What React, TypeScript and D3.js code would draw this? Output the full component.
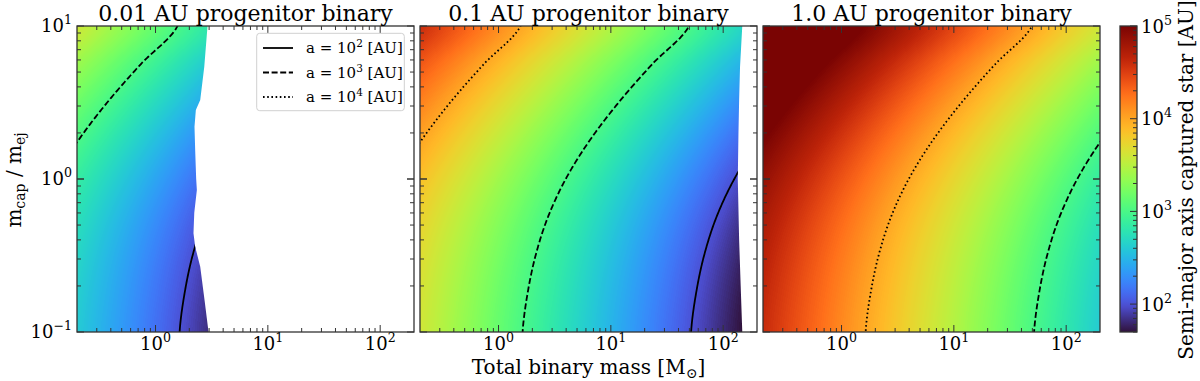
import React, { useEffect, useRef } from "react";
import * as d3 from "d3";

// ---------- data ----------
const panelTitles = ["0.01 AU progenitor binary", "0.1 AU progenitor binary", "1.0 AU progenitor binary"];
const progenitorSep = [0.01, 0.1, 1.0]; // AU

// grid nodes (log10 of mass ratio q = m_cap/m_ej and of total binary mass M)
const logQNodes = [-1, -0.75, -0.5, -0.25, 0, 0.25, 0.5, 0.75, 1];
const logMNodes = [-0.7, 0.3, 1.3, 2.3];
// log10 semi-major axis [AU] of the captured star for a 1 AU progenitor binary
// rows: logQNodes, columns: logMNodes
const logAGrid1AU = [
  [4.61, 3.943, 3.276, 2.61],
  [4.639, 3.972, 3.305, 2.639],
  [4.687, 4.02, 3.353, 2.687],
  [4.76, 4.093, 3.426, 2.76],
  [4.866, 4.199, 3.532, 2.866],
  [5.007, 4.34, 3.673, 3.007],
  [5.18, 4.513, 3.846, 3.18],
  [5.379, 4.712, 4.045, 3.379],
  [5.597, 4.93, 4.263, 3.597],
];

// edge of the region where a captured orbit exists (log q -> log M), per panel
const edgeLogQ_001 = [-1, -0.79, -0.573, -0.443, -0.355, -0.22, -0.072, 0, 0.19, 0.342, 0.451, 0.516, 0.734, 1];
const edgeLogM_001 = [0.472, 0.436, 0.398, 0.353, 0.338, 0.345, 0.368, 0.362, 0.353, 0.347, 0.359, 0.398, 0.434, 0.463];
const edgeLogQ_01 = [-1, -0.725, -0.4, 0, 0.3, 0.516, 0.734, 1];
const edgeLogM_01 = [2.17, 2.157, 2.142, 2.13, 2.136, 2.142, 2.15, 2.17];

const contourLevels = [100, 1000, 10000];
const contourExponents = ["2", "3", "4"];
const massDomain = [0.2, 200];
const ratioDomain = [0.1, 10];
const colorDomain = [50, 1e5];
const massTickValues = [1, 10, 100];
const ratioTickValues = [0.1, 1, 10];
const colorTickValues = [100, 1000, 10000, 100000];

// ---------- layout / style ----------
const FONT = "DejaVu Serif";
const panelLefts = [77, 420, 763];
const PW = 337;
const PT = 26;
const PH = 306;
const CB = { x: 1120, w: 17 };
const frameColor = "#333";
const dashStyles = [null, "6,2.6", "1.6,2.6"];

function catmull(v: number[], t: number) {
  const n = v.length;
  let i = Math.floor(t);
  if (i < 0) i = 0;
  if (i > n - 2) i = n - 2;
  const u = t - i;
  const p0 = v[Math.max(i - 1, 0)], p1 = v[i], p2 = v[i + 1], p3 = v[Math.min(i + 2, n - 1)];
  return 0.5 * (2 * p1 + (-p0 + p2) * u + (2 * p0 - 5 * p1 + 4 * p2 - p3) * u * u + (-p0 + 3 * p1 - 3 * p2 + p3) * u * u * u);
}

const qStep = logQNodes[1] - logQNodes[0];
function columnValues(logq: number) {
  const t = (logq - logQNodes[0]) / qStep;
  return logMNodes.map((_, j) => catmull(logAGrid1AU.map((r) => r[j]), t));
}
function rowValue(cols: number[], logM: number) {
  const t = (logM - logMNodes[0]) / (logMNodes[1] - logMNodes[0]);
  let i = Math.floor(t);
  if (i < 0) i = 0;
  if (i > cols.length - 2) i = cols.length - 2;
  const u = t - i;
  return cols[i] + (cols[i + 1] - cols[i]) * u;
}
function crossing(cols: number[], level: number) {
  for (let i = 0; i < cols.length - 1; i++) {
    const a = cols[i], b = cols[i + 1];
    const first = i === 0, last = i === cols.length - 2;
    if ((level <= a || first) && (level >= b || last)) {
      const u = (a - level) / (a - b);
      if ((first && u < -0.15) || (last && u > 1.15)) return null;
      return logMNodes[i] + u * (logMNodes[i + 1] - logMNodes[i]);
    }
  }
  return null;
}

const turboFixed = (t: number) => {
  if (t < 0.08) return d3.interpolateRgb("#30123b", d3.interpolateTurbo(0.08))(t / 0.08);
  if (t > 0.9) return d3.interpolateRgb(d3.interpolateTurbo(0.9), "#7a0403")((t - 0.9) / 0.1);
  return d3.interpolateTurbo(t);
};

export default function App() {
  const ref = useRef<SVGSVGElement>(null);
  useEffect(() => {
    const svg = d3.select(ref.current);
    svg.selectAll("*").remove();
    const defs = svg.append("defs");

    const lmin = Math.log10(colorDomain[0]);
    const lmax = Math.log10(colorDomain[1]);
    const lut = d3.range(256).map((i) => d3.rgb(turboFixed(i / 255)));

    const edges = [
      { q: edgeLogQ_001, m: edgeLogM_001 },
      { q: edgeLogQ_01, m: edgeLogM_01 },
      null,
    ];

    progenitorSep.forEach((a0, p) => {
      const left = panelLefts[p];
      const x = d3.scaleLog().domain(massDomain).range([left, left + PW]);
      const y = d3.scaleLog().domain(ratioDomain).range([PT + PH, PT]);
      const shift = Math.log10(a0);
      const g = svg.append("g");

      const edge = edges[p];
      let poly: [number, number][];
      if (edge) {
        poly = [[x(massDomain[0]), y(ratioDomain[0])]];
        edge.q.forEach((lq, i) => poly.push([x(Math.pow(10, edge.m[i])), y(Math.pow(10, lq))]));
        poly.push([x(massDomain[0]), y(ratioDomain[1])]);
      } else {
        poly = [
          [left, PT],
          [left + PW, PT],
          [left + PW, PT + PH],
          [left, PT + PH],
        ];
      }
      const clipId = "clip" + p;
      defs.append("clipPath").attr("id", clipId).append("polygon").attr("points", poly.map((d) => d.join(",")).join(" "));
      const rectClip = "rclip" + p;
      defs.append("clipPath").attr("id", rectClip).append("rect").attr("x", left).attr("y", PT).attr("width", PW).attr("height", PH);

      // heatmap
      const canvas = document.createElement("canvas");
      canvas.width = PW;
      canvas.height = PH;
      const ctx = canvas.getContext("2d")!;
      const img = ctx.createImageData(PW, PH);
      for (let py = 0; py < PH; py++) {
        const lq = Math.log10(y.invert(PT + py + 0.5));
        const cols = columnValues(lq);
        for (let px = 0; px < PW; px++) {
          const lm = Math.log10(x.invert(left + px + 0.5));
          const L = rowValue(cols, lm) + shift;
          let t = (L - lmin) / (lmax - lmin);
          t = Math.max(0, Math.min(1, t));
          const c = lut[Math.round(t * 255)];
          const k = (py * PW + px) * 4;
          img.data[k] = c.r;
          img.data[k + 1] = c.g;
          img.data[k + 2] = c.b;
          img.data[k + 3] = 255;
        }
      }
      ctx.putImageData(img, 0, 0);
      const gc = g.append("g").attr("clip-path", `url(#${rectClip})`).append("g").attr("clip-path", `url(#${clipId})`);
      gc.append("image")
        .attr("x", left)
        .attr("y", PT)
        .attr("width", PW)
        .attr("height", PH)
        .attr("preserveAspectRatio", "none")
        .attr("href", canvas.toDataURL());

      // contours
      const qs = d3.range(0, 601).map((i) => -1.02 + (2.04 * i) / 600);
      contourLevels.forEach((lev, li) => {
        const target = Math.log10(lev) - shift;
        const pts: ([number, number] | null)[] = qs.map((lq) => {
          const cols = columnValues(lq);
          const lm = crossing(cols, target);
          if (lm === null) return null;
          return [x(Math.pow(10, lm)), y(Math.pow(10, lq))];
        });
        const line = d3
          .line<[number, number] | null>()
          .defined((d) => d !== null)
          .x((d) => d![0])
          .y((d) => d![1]);
        const path = gc
          .append("path")
          .attr("d", line(pts))
          .attr("fill", "none")
          .attr("stroke", "#000")
          .attr("stroke-width", 1.8);
        if (dashStyles[li]) path.attr("stroke-dasharray", dashStyles[li]!);
      });

      // frame
      g.append("rect")
        .attr("x", left)
        .attr("y", PT)
        .attr("width", PW)
        .attr("height", PH)
        .attr("fill", "none")
        .attr("stroke", frameColor)
        .attr("stroke-width", 1.3);

      // ticks
      const tk = g.append("g").attr("stroke", frameColor).attr("stroke-width", 1);
      for (let d = -1; d <= 2; d++) {
        for (let k = 1; k <= 9; k++) {
          const v = k * Math.pow(10, d);
          if (v <= massDomain[0] * 1.001 || v >= massDomain[1] * 0.999) continue;
          const len = k === 1 ? 7 : 4;
          const xx = x(v);
          tk.append("line").attr("x1", xx).attr("x2", xx).attr("y1", PT + PH).attr("y2", PT + PH - len);
          tk.append("line").attr("x1", xx).attr("x2", xx).attr("y1", PT).attr("y2", PT + len);
        }
      }
      for (let d = -1; d <= 1; d++) {
        for (let k = 1; k <= 9; k++) {
          const v = k * Math.pow(10, d);
          if (v <= ratioDomain[0] * 1.001 || v >= ratioDomain[1] * 0.999) continue;
          const len = k === 1 ? 7 : 4;
          const yy = y(v);
          tk.append("line").attr("x1", left).attr("x2", left + len).attr("y1", yy).attr("y2", yy);
          tk.append("line").attr("x1", left + PW).attr("x2", left + PW - len).attr("y1", yy).attr("y2", yy);
        }
      }
      ratioTickValues.forEach((v) => {
        const yy = y(v);
        tk.append("line").attr("x1", left).attr("x2", left + 7).attr("y1", yy).attr("y2", yy);
        tk.append("line").attr("x1", left + PW).attr("x2", left + PW - 7).attr("y1", yy).attr("y2", yy);
      });

      // tick labels
      massTickValues.forEach((v) => {
        const e = Math.round(Math.log10(v));
        const t = g
          .append("text")
          .attr("x", x(v))
          .attr("y", 350)
          .attr("text-anchor", "middle")
          .attr("font-family", FONT)
          .attr("font-size", 18);
        t.append("tspan").text("10");
        t.append("tspan").attr("dy", -8).attr("font-size", 12.6).text(String(e));
      });
      if (p === 0) {
        ratioTickValues.forEach((v) => {
          const e = Math.round(Math.log10(v));
          const t = g
            .append("text")
            .attr("x", left - 5)
            .attr("y", y(v) + 6)
            .attr("text-anchor", "end")
            .attr("font-family", FONT)
            .attr("font-size", 18);
          t.append("tspan").text("10");
          t.append("tspan").attr("dy", -8).attr("font-size", 12.6).text(e < 0 ? "\u2212" + Math.abs(e) : String(e));
        });
      }

      // title
      g.append("text")
        .attr("x", left + PW / 2)
        .attr("y", 21)
        .attr("text-anchor", "middle")
        .attr("font-family", FONT)
        .attr("font-size", 22)
        .text(panelTitles[p]);
    });

    // legend (panel 1)
    const lg = svg.append("g");
    lg.append("rect")
      .attr("x", 256.7)
      .attr("y", 33.3)
      .attr("width", 147.6)
      .attr("height", 77.4)
      .attr("rx", 3)
      .attr("fill", "white")
      .attr("fill-opacity", 0.85)
      .attr("stroke", "#d0d0d0");
    contourLevels.forEach((lev, i) => {
      const yy = 48 + i * 24.5;
      const l = lg
        .append("line")
        .attr("x1", 263)
        .attr("x2", 293)
        .attr("y1", yy)
        .attr("y2", yy)
        .attr("stroke", "#000")
        .attr("stroke-width", 1.8);
      if (dashStyles[i]) l.attr("stroke-dasharray", dashStyles[i]!);
      const t = lg
        .append("text")
        .attr("x", 306)
        .attr("y", yy + 5)
        .attr("font-family", FONT)
        .attr("font-size", 15);
      t.append("tspan").text("a = 10");
      t.append("tspan").attr("dy", -6).attr("font-size", 10.5).text(contourExponents[i]);
      t.append("tspan").attr("dy", 6).text(" [AU]");
    });

    // axis labels
    const yl = svg
      .append("text")
      .attr("transform", `translate(21,180) rotate(-90)`)
      .attr("text-anchor", "middle")
      .attr("font-family", FONT)
      .attr("font-size", 20);
    yl.append("tspan").text("m");
    yl.append("tspan").attr("dy", 4).attr("font-size", 14).text("cap");
    yl.append("tspan").attr("dy", -4).text(" / m");
    yl.append("tspan").attr("dy", 4).attr("font-size", 14).text("ej");

    const xl = svg
      .append("text")
      .attr("x", panelLefts[1] + PW / 2)
      .attr("y", 374)
      .attr("text-anchor", "middle")
      .attr("font-family", FONT)
      .attr("font-size", 20);
    xl.append("tspan").text("Total binary mass [M");
    xl.append("tspan").attr("dy", 4).attr("font-size", 14).text("\u2299");
    xl.append("tspan").attr("dy", -4).text("]");

    // colorbar
    const cy = d3.scaleLog().domain(colorDomain).range([PT + PH, PT]);
    const grad = defs.append("linearGradient").attr("id", "cbgrad").attr("x1", 0).attr("x2", 0).attr("y1", 1).attr("y2", 0);
    d3.range(0, 101).forEach((i) => {
      grad.append("stop").attr("offset", `${i}%`).attr("stop-color", turboFixed(i / 100));
    });
    svg.append("rect").attr("x", CB.x).attr("y", PT).attr("width", CB.w).attr("height", PH).attr("fill", "url(#cbgrad)");
    const ctk = svg.append("g").attr("stroke", frameColor).attr("stroke-width", 1);
    for (let d = 1; d <= 4; d++) {
      for (let k = 1; k <= 9; k++) {
        const v = k * Math.pow(10, d);
        if (v < colorDomain[0] || v > colorDomain[1]) continue;
        const len = k === 1 ? 7 : 4;
        const yy = cy(v);
        ctk.append("line").attr("x1", CB.x + CB.w).attr("x2", CB.x + CB.w - len).attr("y1", yy).attr("y2", yy);
      }
    }
    ctk.append("line").attr("x1", CB.x + CB.w).attr("x2", CB.x + CB.w - 7).attr("y1", cy(1e5)).attr("y2", cy(1e5));
    svg.append("rect")
      .attr("x", CB.x)
      .attr("y", PT)
      .attr("width", CB.w)
      .attr("height", PH)
      .attr("fill", "none")
      .attr("stroke", frameColor)
      .attr("stroke-width", 1.3);
    colorTickValues.forEach((v) => {
      const e = Math.round(Math.log10(v));
      const t = svg
        .append("text")
        .attr("x", CB.x + CB.w + 4)
        .attr("y", cy(v) + 6.5)
        .attr("font-family", FONT)
        .attr("font-size", 18);
      t.append("tspan").text("10");
      t.append("tspan").attr("dy", -8).attr("font-size", 12.6).text(String(e));
    });
    svg.append("text")
      .attr("transform", `translate(1193,180) rotate(-90)`)
      .attr("text-anchor", "middle")
      .attr("font-family", FONT)
      .attr("font-size", 20)
      .text("Semi-major axis captured star [AU]");
  }, []);
  return (
    <svg
      ref={ref}
      width={1200}
      height={381}
      style={{ position: "absolute", left: 0, top: 0, background: "white", display: "block" }}
    />
  );
}
